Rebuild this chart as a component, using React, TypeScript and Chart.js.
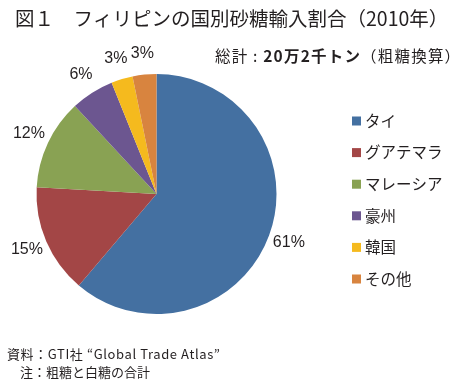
import React, { useEffect, useRef } from "react";
import { Chart, registerables } from "chart.js";

Chart.register(...registerables);

const categories = ["タイ", "グアテマラ", "マレーシア", "豪州", "韓国", "その他"];
const shares = [61.2, 14.7, 12.2, 5.8, 2.9, 3.2];
const shareLabels = ["61%", "15%", "12%", "6%", "3%", "3%"];
const colors = ["#4470A1", "#A34646", "#89A253", "#6C5690", "#F5BA1E", "#D8843F"];

const titleText = "図１　フィリピンの国別砂糖輸入割合（2010年）";
const subtitleParts = [
  { t: "総計 : ", bold: false },
  { t: "20万2千トン", bold: true },
  { t: "（粗糖換算）", bold: false },
];
const footerLines = ["資料：GTI社 “Global Trade Atlas”", "　注：粗糖と白糖の合計"];

const JP = '"Noto Sans CJK JP", "Noto Sans", sans-serif';
const NUM = '"Liberation Sans Narrow", "Liberation Sans", sans-serif';
const INK = "#231F20";

const overlay = {
  id: "overlay",
  beforeDraw(chart: any) {
    const ctx = chart.ctx;
    ctx.save();
    ctx.fillStyle = "#ffffff";
    ctx.fillRect(0, 0, chart.width, chart.height);
    ctx.restore();
  },
  afterDraw(chart: any) {
    const ctx = chart.ctx as any;
    ctx.save();
    ctx.fillStyle = INK;
    ctx.textBaseline = "middle";

    // title
    ctx.font = `normal 19.5px ${JP}`;
    ctx.textAlign = "left";
    ctx.fillText(titleText, 15, 19);

    // subtitle
    ctx.letterSpacing = "1.2px";
    let x = 215;
    for (const p of subtitleParts) {
      ctx.font = `${p.bold ? "bold" : "normal"} 15.5px ${JP}`;
      ctx.fillText(p.t, x, 56);
      x += ctx.measureText(p.t).width;
    }
    ctx.letterSpacing = "0px";

    // percentage labels
    const meta = chart.getDatasetMeta(0);
    ctx.font = `16px ${NUM}`;
    ctx.textAlign = "center";
    meta.data.forEach((arc: any, i: number) => {
      const { x: cx, y: cy, startAngle, endAngle, outerRadius } = arc.getProps(
        ["x", "y", "startAngle", "endAngle", "outerRadius"],
        true
      );
      const mid = (startAngle + endAngle) / 2;
      const r = outerRadius + 21;
      ctx.fillText(shareLabels[i], cx + Math.cos(mid) * r, cy + Math.sin(mid) * r);
    });

    // legend
    ctx.textAlign = "left";
    ctx.font = `15.5px ${JP}`;
    categories.forEach((c, i) => {
      const y = 121 + i * 31.6;
      ctx.fillStyle = colors[i];
      ctx.fillRect(352, y - 4.5, 9, 9);
      ctx.fillStyle = INK;
      ctx.fillText(c, 365, y);
    });

    // footer
    ctx.font = `13px ${JP}`;
    ctx.letterSpacing = "0.6px";
    ctx.fillText(footerLines[0], 7, 354);
    ctx.letterSpacing = "0px";
    ctx.fillText(footerLines[1], 7, 372);

    ctx.restore();
  },
};

export default function App() {
  const ref = useRef<HTMLCanvasElement | null>(null);
  useEffect(() => {
    document.body.style.margin = "0";
    const chart = new Chart(ref.current as HTMLCanvasElement, {
      type: "pie",
      data: {
        labels: categories,
        datasets: [
          {
            data: shares,
            backgroundColor: colors,
            borderWidth: 0,
          },
        ],
      },
      options: {
        animation: false,
        responsive: false,
        devicePixelRatio: 1,
        layout: { padding: { left: 36.5, right: 175.5, top: 74, bottom: 75 } },
        plugins: {
          legend: { display: false },
          title: { display: false },
          tooltip: { enabled: false },
        },
      },
      plugins: [overlay],
    });
    return () => chart.destroy();
  }, []);
  return (
    <div style={{ width: 452, height: 389 }}>
      <canvas ref={ref} width={452} height={389} />
    </div>
  );
}
